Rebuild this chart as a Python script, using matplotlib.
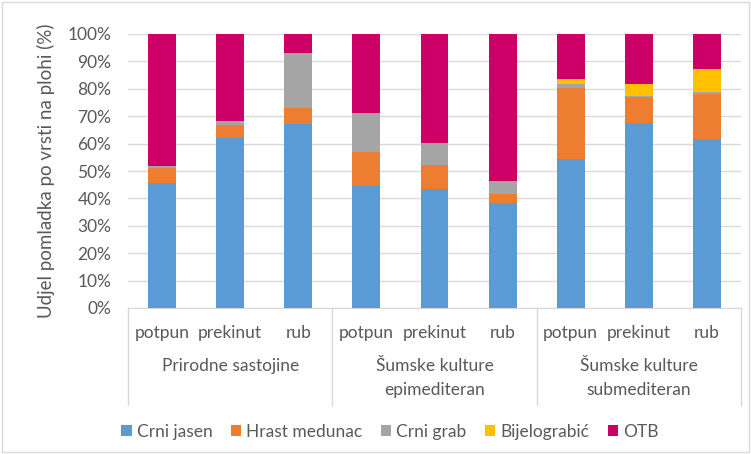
import matplotlib
matplotlib.use('Agg')
import matplotlib.pyplot as plt
import numpy as np

plt.rcParams['font.family'] = ['Lato', 'DejaVu Sans']

# podaci (udio %, procijenjeno sa slike)
groups = ['Prirodne sastojine', 'Šumske kulture\nepimediteran', 'Šumske kulture\nsubmediteran']
subcats = ['potpun', 'prekinut', 'rub']
series_names = ['Crni jasen', 'Hrast medunac', 'Crni grab', 'Bijelograbić', 'OTB']
crni_jasen = [45.8, 62.1, 67.2, 44.7, 43.6, 38.5, 54.4, 67.6, 61.7]
hrast_medunac = [5.2, 4.6, 5.7, 12.3, 8.5, 3.2, 26.0, 9.5, 16.3]
crni_grab = [0.7, 1.6, 20.1, 14.3, 8.0, 4.5, 1.4, 0.2, 0.9]
bijelograbic = [0.0, 0.0, 0.0, 0.0, 0.0, 0.0, 1.7, 4.4, 8.3]
otb = [48.3, 31.7, 7.0, 28.7, 39.9, 53.8, 16.5, 18.3, 12.8]
colors = ['#5B9BD5', '#ED7D31', '#A5A5A5', '#FFC000', '#CC0066']

W, H = 751, 454
fig = plt.figure(figsize=(W / 100, H / 100), dpi=100)
ax = fig.add_axes([128 / W, 1 - 308 / H, 613 / W, 274 / H])

x = np.arange(len(crni_jasen))
bottom = np.zeros(len(x))
for name, vals, c in zip(series_names,
                         [crni_jasen, hrast_medunac, crni_grab, bijelograbic, otb],
                         colors):
    ax.bar(x, vals, width=0.41, bottom=bottom, color=c, label=name, zorder=3)
    bottom += np.array(vals)

ax.set_xlim(-0.5, len(x) - 0.5)
ax.set_ylim(0, 100)
ax.set_yticks(np.arange(0, 101, 10))
ax.set_yticklabels([f'{v}%' for v in range(0, 101, 10)])
ax.tick_params(axis='y', length=0, pad=12, labelsize=12.5, labelcolor='#595959')
ax.tick_params(axis='x', length=0, labelbottom=False)
ax.grid(axis='y', color='#D9D9D9', linewidth=1, zorder=0)
for s in ['left', 'right', 'top']:
    ax.spines[s].set_visible(False)
ax.spines['bottom'].set_color('#D9D9D9')

# kategorije na osi x
trans = ax.get_xaxis_transform()
for i, lab in enumerate(subcats * len(groups)):
    ax.text(i, -0.091, lab, transform=trans, ha='center', va='center',
            fontsize=12.5, color='#595959')
for g, lab in enumerate(groups):
    for k, line in enumerate(lab.split('\n')):
        ax.text(g * 3 + 1, -0.212 - 0.088 * k, line, transform=trans,
                ha='center', va='center', fontsize=12.5, color='#595959')
for b in [-0.5, 2.5, 5.5, 8.5]:
    ax.plot([b, b], [0, -0.355], transform=trans, color='#D9D9D9', linewidth=1,
            clip_on=False)

ax.set_ylabel('Udjel pomladka po vrsti na plohi (%)', fontsize=13.5, color='#595959',
              labelpad=9)

fig.legend(loc='center', bbox_to_anchor=(390 / W, 1 - 432 / H), ncol=5, frameon=False,
           handlelength=0.6, handleheight=0.6, handletextpad=0.3, columnspacing=1.05,
           fontsize=12.5, labelcolor='#595959')

# okvir grafikona
fig.patches.append(plt.Rectangle((2 / W, 2 / H), 1 - 4 / W, 1 - 4 / H,
                                 transform=fig.transFigure, fill=False,
                                 edgecolor='#D9D9D9', linewidth=1))

fig.savefig('out.png', dpi=100)
